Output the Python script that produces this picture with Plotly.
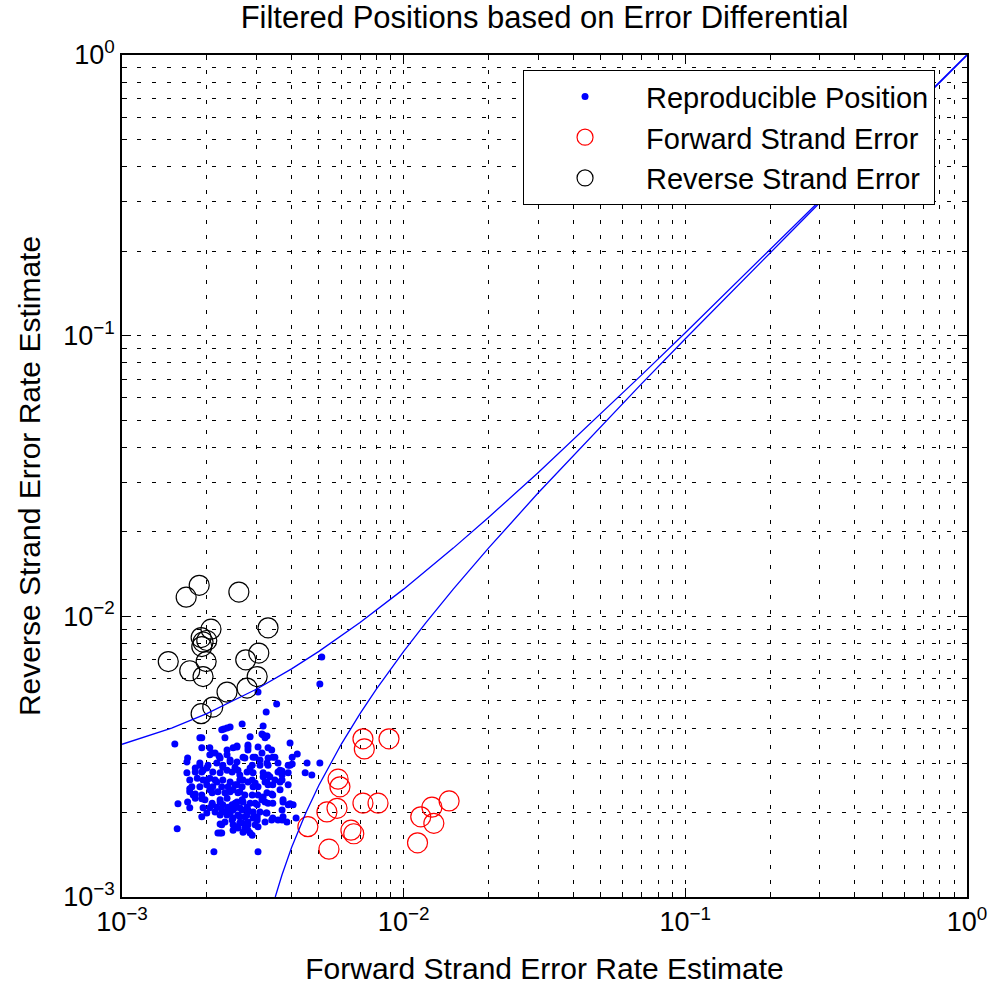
import plotly.graph_objects as go

# ---------------- data (error-rate estimates, in units of 1e-3) ----------------
repro_fwd_milli = [
    1.54, 1.92, 2.32, 2.36, 2.42, 2.26, 1.92, 2.05, 1.89, 1.71, 1.70, 2.05, 2.14, 2.23, 2.36, 2.48,
    2.17, 2.28, 2.42, 1.82, 1.92, 2.00, 2.10, 2.23, 2.36, 2.46, 1.74, 1.85, 1.94, 2.05, 2.17, 2.28,
    2.42, 1.77, 1.89, 2.00, 2.10, 2.26, 2.38, 2.52,
    2.67, 3.17, 2.85, 3.14, 3.27, 3.95, 2.56, 2.80, 3.04, 3.30, 3.14, 2.97, 2.69, 3.30, 3.49, 4.02,
    3.89, 3.58, 2.56, 2.90, 3.09, 3.30, 2.58, 2.85, 2.92, 3.17, 3.35, 3.58, 3.64, 3.89, 4.47, 2.62,
    2.80, 2.97, 3.22, 3.30, 2.67, 3.04, 4.54,
    1.74, 1.82, 1.92, 2.09, 2.19, 2.32, 2.42, 1.82, 1.97, 1.58, 1.71, 2.09, 2.23, 2.28, 2.38, 2.46,
    1.74, 2.05, 2.14, 2.00, 2.32, 2.42, 2.48, 1.92, 2.26, 2.32, 2.46, 2.48, 2.23, 1.57, 2.12,
    2.58, 2.73, 2.90, 3.04, 3.17, 3.40, 2.56, 2.69, 2.85, 3.02, 3.22, 3.30, 2.62, 2.80, 2.58, 2.73,
    2.92, 2.67, 2.56, 2.80, 2.97, 2.69, 2.85, 3.73, 3.89, 3.70, 3.27, 3.40, 3.22, 3.58, 3.85, 3.04,
    3.04,
    3.04, 3.54, 3.25, 5.12, 5.04, 4.19, 4.72, 4.15, 3.95, 4.05, 3.73, 5.04, 4.02, 3.70, 3.70, 3.70,
    2.30, 1.89, 2.56, 2.80, 3.17, 3.22, 2.09, 2.36, 2.21, 2.80, 3.40, 1.89, 2.02, 2.28, 2.42, 2.73,
    2.92, 3.09, 3.27, 3.43, 3.64, 3.95, 1.70, 1.82, 1.94, 2.52, 2.62, 2.78, 3.17, 3.30, 3.49, 3.70,
    1.74, 2.00, 2.14, 2.56, 2.69, 2.90, 3.27, 3.43, 3.64, 3.89, 1.79, 2.05, 2.48, 2.62, 2.92, 3.27,
    3.43, 3.73, 1.92, 2.09, 2.23, 2.36, 2.52, 2.67, 2.97, 3.14, 3.43, 1.94, 2.17, 2.26, 2.38, 2.52,
    2.67, 2.78, 2.92, 3.09, 3.25, 3.43, 2.23, 2.36, 2.48, 2.62, 2.78, 3.02, 2.23, 2.48, 2.62, 2.80,
    3.02, 2.19, 2.26, 2.58, 2.73, 2.90, 2.80,
]
repro_rev_milli = [
    3.51, 3.69, 3.69, 4.00, 4.03, 3.94, 3.40, 3.40, 2.95, 3.13, 3.03, 3.21, 3.26, 3.13, 3.21, 3.40,
    3.00, 2.95, 3.03, 2.88, 2.79, 2.88, 2.79, 2.77, 2.83, 2.79, 2.61, 2.65, 2.61, 2.65, 2.57, 2.61,
    2.57, 2.47, 2.47, 2.51, 2.47, 2.47, 2.47, 2.51,
    4.13, 4.07, 3.72, 3.81, 3.75, 3.54, 3.42, 3.42, 3.42, 3.40, 3.26, 3.15, 3.15, 3.13, 3.15, 3.15,
    2.95, 3.00, 3.03, 2.95, 2.95, 2.95, 2.83, 2.88, 2.77, 2.77, 2.68, 2.79, 2.57, 2.77, 2.77, 2.61,
    2.57, 2.55, 2.57, 2.51, 2.47, 2.47, 3.00,
    2.37, 2.33, 2.31, 2.35, 2.37, 2.35, 2.37, 2.25, 2.22, 2.15, 2.18, 2.16, 2.18, 2.13, 2.09, 2.13,
    2.08, 2.08, 2.01, 1.99, 2.01, 1.99, 2.04, 1.93, 1.81, 1.85, 1.88, 1.73, 1.69, 1.75, 1.45,
    2.35, 2.31, 2.31, 2.31, 2.27, 2.33, 2.18, 2.18, 2.16, 2.13, 2.18, 2.16, 2.08, 2.04, 1.96, 1.93,
    1.91, 1.84, 1.78, 1.81, 1.81, 1.70, 1.69, 2.18, 2.13, 2.04, 1.99, 1.88, 1.85, 1.88, 1.85, 1.45,
    1.78,
    5.37, 4.87, 4.56, 7.16, 5.74, 3.23, 2.72, 1.91, 2.15, 2.13, 1.93, 3.00, 2.98, 2.81, 2.61, 1.88,
    3.97, 3.69, 3.45, 3.48, 3.78, 3.69, 3.26, 3.34, 3.18, 3.34, 3.34, 3.00, 2.95, 2.90, 3.08, 3.13,
    3.15, 3.08, 3.00, 3.15, 2.83, 2.95, 2.77, 2.79, 2.83, 2.90, 2.72, 2.79, 2.68, 2.72, 2.61, 2.72,
    2.43, 2.61, 2.61, 2.51, 2.61, 2.61, 2.57, 2.51, 2.41, 2.51, 2.31, 2.41, 2.41, 2.37, 2.47, 2.35,
    2.31, 2.22, 2.24, 2.13, 2.22, 2.25, 2.16, 2.22, 2.16, 2.22, 2.16, 2.08, 2.09, 2.04, 2.04, 2.08,
    2.04, 2.09, 2.01, 2.01, 1.99, 1.91, 1.96, 1.96, 1.91, 1.93, 1.96, 1.93, 1.82, 1.81, 1.84, 1.85,
    1.88, 1.69, 1.69, 1.76, 1.76, 1.66, 1.73,
]

fwd_err_fwd_milli = [7.17, 7.25, 8.87, 5.85, 5.94, 5.80, 5.34, 7.17, 8.11, 4.57, 6.50, 6.65, 5.43,
                     11.2, 11.5, 12.8, 12.6, 14.5]
fwd_err_rev_milli = [3.66, 3.37, 3.66, 2.63, 2.47, 2.07, 2.01, 2.16, 2.16, 1.78, 1.73, 1.68, 1.48,
                     1.56, 1.93, 1.83, 2.09, 2.20]

rev_err_fwd_milli = [1.69, 1.88, 2.60, 3.30, 2.07, 1.91, 1.94, 1.92, 2.00, 1.46, 1.74, 1.99, 1.94,
                     2.75, 3.06, 3.02, 2.78, 2.36, 2.10, 1.91]
rev_err_rev_milli = [11.7, 12.9, 12.2, 9.1, 9.0, 8.4, 8.1, 7.8, 8.2, 6.9, 6.4, 6.9, 6.1,
                     7.0, 7.4, 6.1, 5.55, 5.37, 4.75, 4.5]

# decision boundaries
upper_x = [0.001, 0.0015, 0.002, 0.003, 0.004, 0.005, 0.007, 0.01, 0.015, 0.02, 0.03, 0.05,
           0.07, 0.1, 0.2, 0.3, 0.5, 1.0]
upper_y = [0.0035, 0.004, 0.0045, 0.0055, 0.0065, 0.0075, 0.0095, 0.0125, 0.0175, 0.0225, 0.0325,
           0.0525, 0.0725, 0.1025, 0.2025, 0.3025, 0.5025, 1.0025]
lower_x = [0.0035, 0.0037, 0.004, 0.0042, 0.0045, 0.005, 0.006, 0.007, 0.008, 0.01, 0.012, 0.015,
           0.02, 0.03, 0.05, 0.07, 0.1, 0.2, 0.3, 0.5, 1.0]
lower_y = [0.001, 0.0012, 0.0015, 0.0017, 0.002, 0.0025, 0.0035, 0.0045, 0.0055, 0.0075, 0.0095,
           0.0125, 0.0175, 0.0275, 0.0475, 0.0675, 0.0975, 0.1975, 0.2975, 0.4975, 0.9975]

tick_vals = [1e-3, 1e-2, 1e-1, 1e0]
tick_text = ["10<sup>\u22123</sup>", "10<sup>\u22122</sup>", "10<sup>\u22121</sup>", "10<sup>0</sup>"]
minor_vals = [m * d for d in (1e-3, 1e-2, 1e-1) for m in range(2, 10)]

title_text = "Filtered Positions based on Error Differential"
x_title = "Forward Strand Error Rate Estimate"
y_title = "Reverse Strand Error Rate Estimate"


def milli(vals):
    return [v * 1e-3 for v in vals]


FONT = "Liberation Sans, Arial, Helvetica, sans-serif"

fig = go.Figure()
fig.add_trace(go.Scatter(
    x=milli(repro_fwd_milli), y=milli(repro_rev_milli), mode="markers",
    name="Reproducible Position",
    marker=dict(symbol="circle", size=7, color="#0000ff", line=dict(width=0)),
))
fig.add_trace(go.Scatter(
    x=milli(fwd_err_fwd_milli), y=milli(fwd_err_rev_milli), mode="markers",
    name="Forward Strand Error",
    marker=dict(symbol="circle-open", size=20, color="#ff0000", line=dict(width=1.2)),
))
fig.add_trace(go.Scatter(
    x=milli(rev_err_fwd_milli), y=milli(rev_err_rev_milli), mode="markers",
    name="Reverse Strand Error",
    marker=dict(symbol="circle-open", size=20, color="#000000", line=dict(width=1.2)),
))
fig.add_trace(go.Scatter(x=upper_x, y=upper_y, mode="lines", showlegend=False,
                         line=dict(color="#0000ff", width=1.3), hoverinfo="skip"))
fig.add_trace(go.Scatter(x=lower_x, y=lower_y, mode="lines", showlegend=False,
                         line=dict(color="#0000ff", width=1.3), hoverinfo="skip"))

grid_common = dict(
    showgrid=True, gridcolor="#000000", gridwidth=1, griddash="4px,11px",
    showline=True, linecolor="#000000", linewidth=1.5, mirror="allticks",
    ticks="inside", ticklen=9, tickwidth=1, tickcolor="#000000",
    tickvals=tick_vals, ticktext=tick_text, zeroline=False, automargin=False,
    tickfont=dict(family=FONT, size=27, color="#000000"),
    minor=dict(tickvals=minor_vals, showgrid=True, gridcolor="#000000", gridwidth=1,
               griddash="4px,11px", ticks="inside", ticklen=5, tickcolor="#000000"),
)

fig.update_xaxes(type="log", range=[-3, 0], **grid_common,
                 title=dict(text=x_title, font=dict(family=FONT, size=30, color="#000000"), standoff=22))
fig.update_yaxes(type="log", range=[-3, 0], **grid_common,
                 title=dict(text=y_title, font=dict(family=FONT, size=30, color="#000000"), standoff=14))

fig.update_layout(
    width=992, height=989,
    margin=dict(l=122, r=25, t=55, b=92),
    paper_bgcolor="white", plot_bgcolor="white",
    title=dict(text=title_text, x=0.5, xref="paper", y=0.983, yanchor="middle",
               font=dict(family=FONT, size=31, color="#000000")),
    showlegend=True,
    legend=dict(x=0.4746, y=0.982, xanchor="left", yanchor="top",
                bgcolor="white", bordercolor="#000000", borderwidth=1,
                font=dict(family=FONT, size=29, color="#000000"),
                itemwidth=112, itemsizing="trace", tracegroupgap=0),
)

fig.write_html("out.html")
